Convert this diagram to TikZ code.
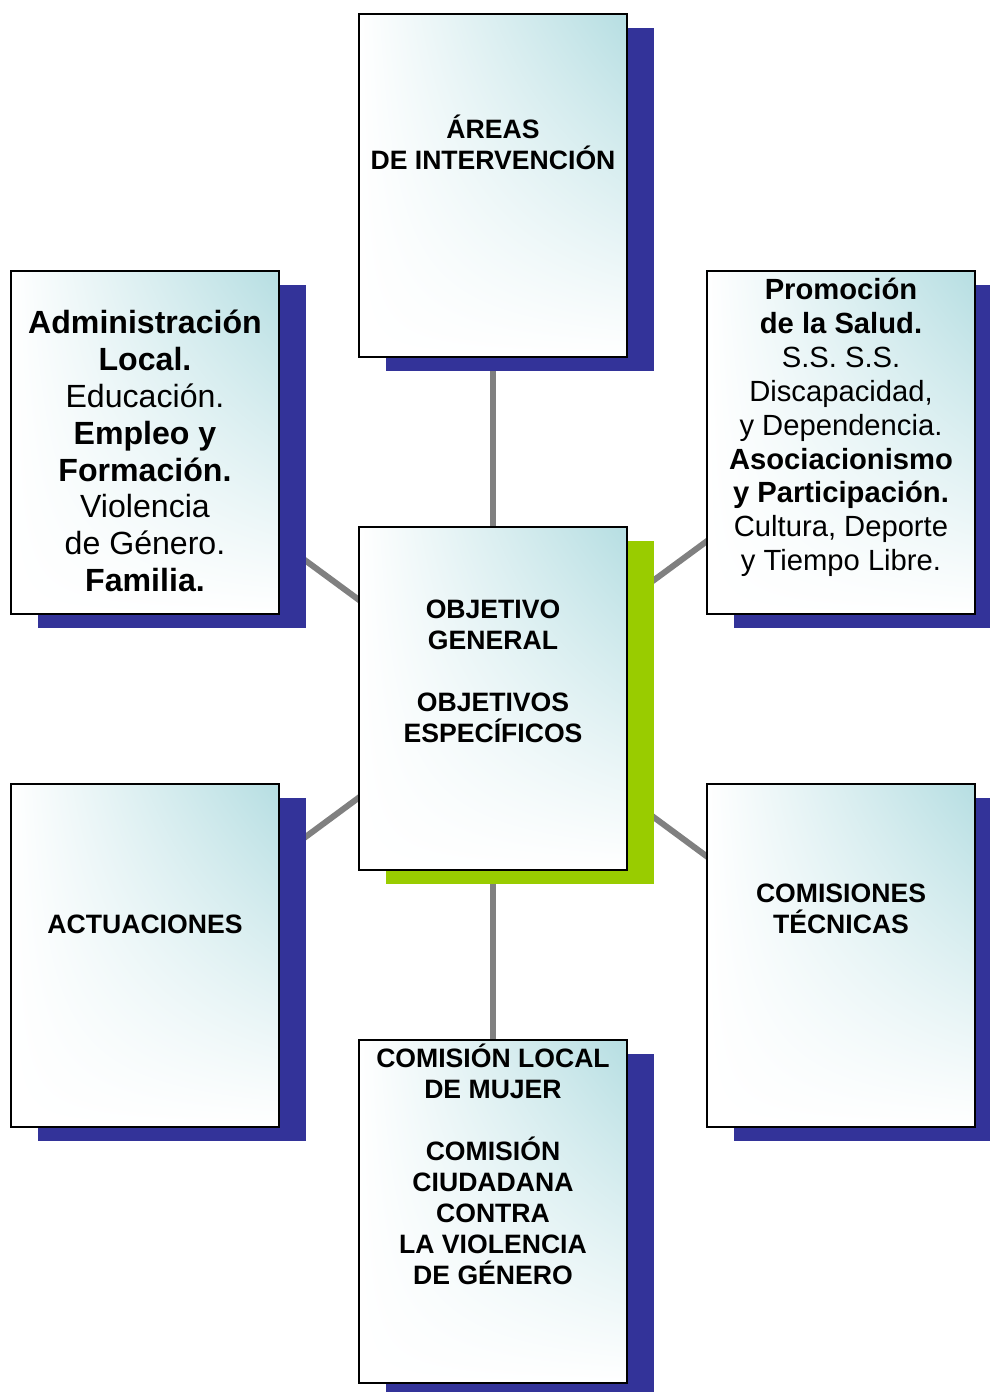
\documentclass[tikz,border=0pt]{standalone}
\usepackage{fontspec}
\setmainfont{Liberation Sans}
\usetikzlibrary{shadows,backgrounds,shadings}
\definecolor{sblue}{RGB}{51,51,153}
\definecolor{sgreen}{RGB}{153,204,0}
\definecolor{tealc}{RGB}{182,222,226}
\definecolor{lgray}{RGB}{128,128,128}
\tikzset{
  panel/.style={draw=black, line width=2pt, minimum width=268pt, minimum height=343pt,
    inner sep=0pt, upper left=white, upper right=tealc, lower left=white, lower right=white},
  blueshadow/.style={drop shadow={shadow xshift=27pt, shadow yshift=-14pt, fill=sblue, opacity=1}},
  greenshadow/.style={drop shadow={shadow xshift=27pt, shadow yshift=-14pt, fill=sgreen, opacity=1}},
  caps/.style={align=center, inner sep=0pt, font=\fontsize{26.6}{31}\selectfont\bfseries},
  bigtxt/.style={align=center, inner sep=0pt, font=\fontsize{32.1}{36.9}\selectfont},
  midtxt/.style={align=center, inner sep=0pt, font=\fontsize{29.2}{33.9}\selectfont},
  link/.style={draw=lgray, line width=6pt}
}
\begin{document}
\begin{tikzpicture}[x=1pt,y=-1pt]
\useasboundingbox (0,0) rectangle (990,1392);
% boxes
\node[panel, blueshadow] (T) at (493,185.5) {};
\node[panel, blueshadow] (UL) at (145,442.5) {};
\node[panel, blueshadow] (UR) at (841,442.5) {};
\node[panel, greenshadow] (C) at (493,698.5) {};
\node[panel, blueshadow] (LL) at (145,955.5) {};
\node[panel, blueshadow] (LR) at (841,955.5) {};
\node[panel, blueshadow] (B) at (493,1211.5) {};
% texts
\node[caps] (tT) at (493,142.5) {ÁREAS\\DE INTERVENCIÓN};
\node[bigtxt] (tUL) at (145,451) {\textbf{Administración}\\\textbf{Local.}\\Educación.\\\textbf{Empleo y}\\\textbf{Formación.}\\Violencia\\de Género.\\\textbf{Familia.}};
\node[midtxt] (tUR) at (841,427.5) {\textbf{Promoción}\\\textbf{de la Salud.}\\S.S. S.S.\\Discapacidad,\\y Dependencia.\\\textbf{Asociacionismo}\\\textbf{y Participación.}\\Cultura, Deporte\\y Tiempo Libre.};
\node[caps] (tC) at (493,671) {OBJETIVO\\GENERAL\\[31pt]OBJETIVOS\\ESPECÍFICOS};
\node[caps] (tLL) at (145,924) {ACTUACIONES};
\node[caps] (tLR) at (841,908.5) {COMISIONES\\TÉCNICAS};
\node[caps] (tB) at (493,1164) {COMISIÓN LOCAL\\DE MUJER\\[31pt]COMISIÓN\\CIUDADANA\\CONTRA\\LA VIOLENCIA\\DE GÉNERO};
% connectors behind everything
\begin{scope}[on background layer]
  \fill[white] (0,0) rectangle (990,1392);
  \draw[link] (C.center) -- (T.center);
  \draw[link] (C.center) -- (B.center);
  \draw[link] (C.center) -- (UL.center);
  \draw[link] (C.center) -- (UR.center);
  \draw[link] (C.center) -- (LL.center);
  \draw[link] (C.center) -- (LR.center);
\end{scope}
\end{tikzpicture}
\end{document}
